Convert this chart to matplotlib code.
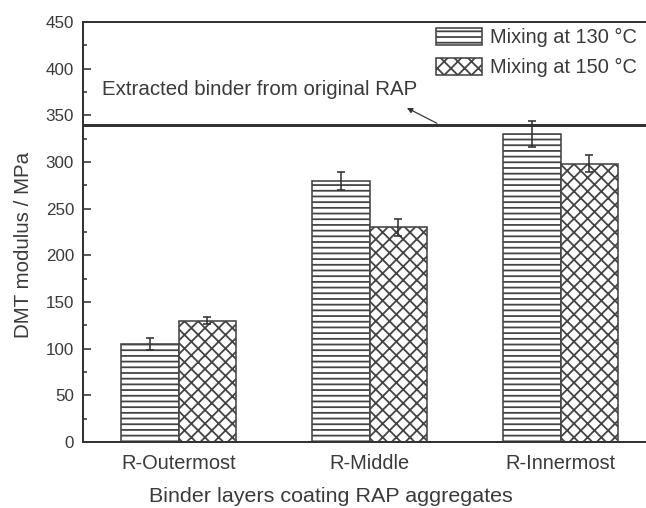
import matplotlib
matplotlib.use("Agg")
import matplotlib.pyplot as plt
import numpy as np

# ---- data ----
categories = ["R-Outermost", "R-Middle", "R-Innermost"]
series_labels = ["Mixing at 130 °C", "Mixing at 150 °C"]
mix130 = [105, 280, 330]
mix150 = [130, 230, 298]
err130 = [6, 9.5, 13.5]
err150 = [3.5, 9, 9]
extracted_binder = 340
y_ticks = [0, 50, 100, 150, 200, 250, 300, 350, 400, 450]

DPI = 205
W, H = 646, 508
PT = 72.0 / DPI  # px -> pt

plt.rcParams["font.family"] = ["Liberation Sans", "DejaVu Sans"]
plt.rcParams["hatch.linewidth"] = 1.8 * PT
TXT = "#3a3a3a"
EDGE = "#444444"

fig = plt.figure(figsize=(W / DPI, H / DPI), dpi=DPI)
ax_left = 83 / W
ax_bottom = (H - 442) / H
ax_w = 573 / W
ax_h = 420 / H
ax = fig.add_axes([ax_left, ax_bottom, ax_w, ax_h])

x = np.arange(1, len(categories) + 1)
bw = 0.3
ekw = dict(ecolor="#333333", elinewidth=1.6 * PT, capsize=4.5 * PT, capthick=1.6 * PT)
b1 = ax.bar(x - bw / 2, mix130, bw, yerr=err130, facecolor="white", edgecolor=EDGE,
            linewidth=1.6 * PT, hatch="------", label=series_labels[0], error_kw=ekw, zorder=2)
b2 = ax.bar(x + bw / 2, mix150, bw, yerr=err150, facecolor="white", edgecolor=EDGE,
            linewidth=1.6 * PT, hatch="xxxxx", label=series_labels[1], error_kw=ekw, zorder=2)

ax.axhline(extracted_binder, color="#333333", linewidth=3 * PT, zorder=3)
ax.text(0.6, 371.8, "Extracted binder from original RAP", fontsize=20.5 * PT,
        color=TXT, va="baseline", ha="left")
ax.annotate("", xy=(2.196, 357.9), xytext=(2.353, 341.5),
            arrowprops=dict(arrowstyle="-|>", color="#333333", lw=1.2 * PT,
                            mutation_scale=11 * PT, shrinkA=0, shrinkB=0))

ax.set_xlim(0.5, 3.5)
ax.set_ylim(0, 450)
ax.set_yticks(y_ticks)
ax.set_yticks(np.arange(25, 450, 50), minor=True)
ax.set_xticks(x)
ax.set_xticklabels(categories)
ax.tick_params(axis="y", which="major", direction="in", length=8 * PT, width=1.6 * PT,
               colors="#333333", labelcolor=TXT, labelsize=17 * PT, pad=9 * PT)
ax.tick_params(axis="y", which="minor", direction="in", length=4.5 * PT, width=1.6 * PT,
               colors="#333333")
ax.tick_params(axis="x", which="both", length=0, labelsize=20 * PT, labelcolor=TXT, pad=12 * PT)

for s in ["left", "top", "bottom"]:
    ax.spines[s].set_linewidth(2 * PT)
    ax.spines[s].set_color("#333333")
ax.spines["right"].set_visible(False)

ax.set_ylabel("DMT modulus / MPa", fontsize=20.5 * PT, color=TXT, va="center")
ax.yaxis.set_label_coords((23.5 - 83) / 573, (442 - 245) / 420)
ax.set_xlabel("Binder layers coating RAP aggregates", fontsize=21.5 * PT, color=TXT, va="center")
ax.xaxis.set_label_coords((331 - 83) / 573, (442 - 497) / 420)

leg = ax.legend(loc="upper right", bbox_to_anchor=(637 / W, 1 - 28 / H),
                bbox_transform=fig.transFigure, frameon=False, borderaxespad=0, borderpad=0,
                handlelength=2.3, handleheight=0.9, handletextpad=0.4, labelspacing=0.55,
                fontsize=20 * PT)
for t in leg.get_texts():
    t.set_color(TXT)

fig.savefig("out.png", dpi=DPI)
